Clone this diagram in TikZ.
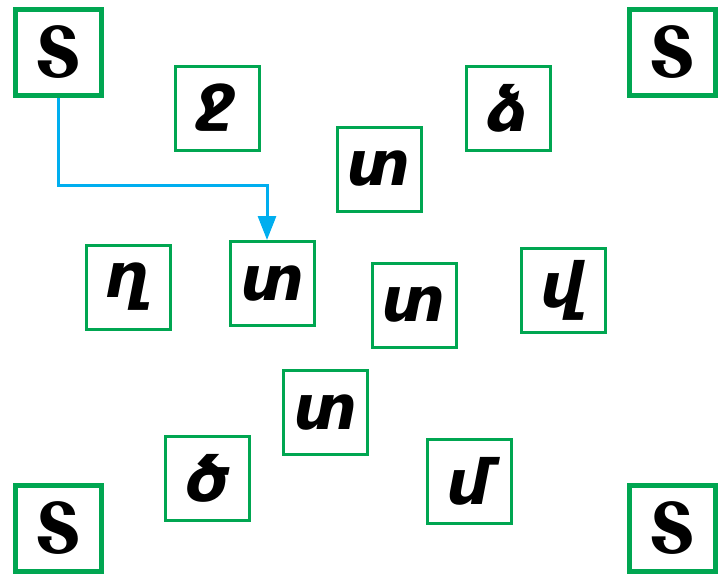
\documentclass[tikz,border=0pt]{standalone}
\usepackage{fontspec}
\newfontfamily\armcap{DejaVu Serif}[FakeStretch=0.8]
\newfontfamily\armlow{DejaVu Sans}[BoldItalicFont={DejaVu Sans Bold Oblique}]
\usetikzlibrary{arrows.meta}
\definecolor{boxgreen}{HTML}{00A651}
\definecolor{arrblue}{HTML}{00AEEF}
\begin{document}
\begin{tikzpicture}[x=1pt,y=-1pt,
  thinbox/.style={draw=boxgreen,line width=3pt,minimum size=84pt,inner sep=0pt,font=\armlow\bfseries\itshape\fontsize{62}{62}\selectfont},
  thickbox/.style={draw=boxgreen,line width=5pt,minimum size=86pt,inner sep=0pt,font=\armcap\bfseries\fontsize{70}{70}\selectfont},
  arr/.style={draw=arrblue,line width=3pt,-{Triangle[width=18pt,length=24pt]}}]
\useasboundingbox (0,0) rectangle (727,574);
\node[thickbox] (s1) at (58,52) {Տ};
\node[thickbox] (s2) at (672,52) {Տ};
\node[thickbox] (s3) at (58,528) {Տ};
\node[thickbox] (s4) at (672,528) {Տ};
\node[thinbox] (j) at (217,108) {ջ};
\node[thinbox] (dz) at (508,108) {ձ};
\node[thinbox] (t1) at (379,169) {տ};
\node[thinbox] (gh) at (128,287) {ղ};
\node[thinbox] (t2) at (272.5,283.5) {տ};
\node[thinbox] (t3) at (414,305) {տ};
\node[thinbox] (v) at (563,290) {վ};
\node[thinbox] (t4) at (325.5,412.5) {տ};
\node[thinbox] (ts) at (207,478) {ծ};
\node[thinbox] (m) at (469,481) {մ};
\coordinate (k) at (267,185);
\draw[arr] (s1.south) |- (k) -- (k |- t2.north);
\end{tikzpicture}
\end{document}
